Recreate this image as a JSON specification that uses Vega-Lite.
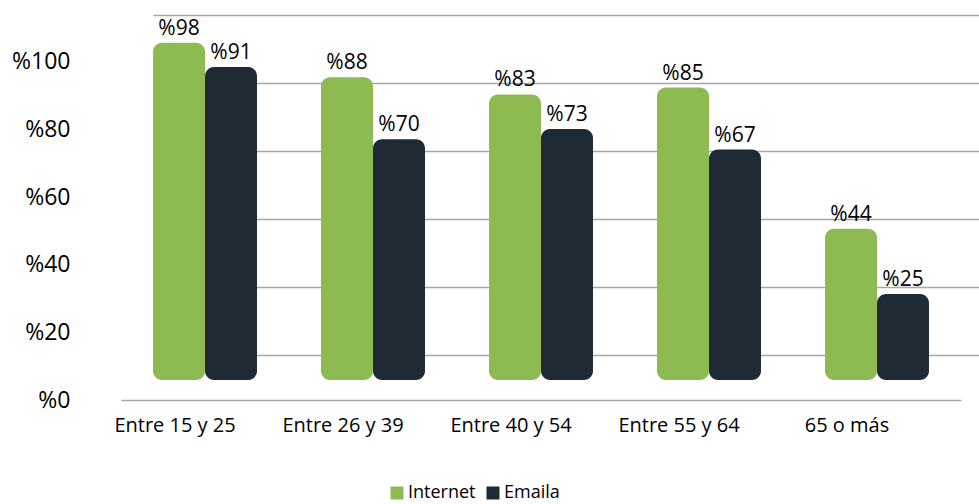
{
  "$schema": "https://vega.github.io/schema/vega-lite/v6.json",
  "width": 826,
  "height": 385,
  "autosize": {"type": "none"},
  "padding": {"left": 153, "top": 15, "right": 0, "bottom": 104},
  "background": "white",
  "config": {"view": {"stroke": null}, "font": "Open Sans"},
  "data": {
    "values": [
      {"group": "Entre 15 y 25", "series": "Internet", "value": 98},
      {"group": "Entre 15 y 25", "series": "Emaila", "value": 91},
      {"group": "Entre 26 y 39", "series": "Internet", "value": 88},
      {"group": "Entre 26 y 39", "series": "Emaila", "value": 70},
      {"group": "Entre 40 y 54", "series": "Internet", "value": 83},
      {"group": "Entre 40 y 54", "series": "Emaila", "value": 73},
      {"group": "Entre 55 y 64", "series": "Internet", "value": 85},
      {"group": "Entre 55 y 64", "series": "Emaila", "value": 67},
      {"group": "65 o más", "series": "Internet", "value": 44},
      {"group": "65 o más", "series": "Emaila", "value": 25}
    ]
  },
  "layer": [
    {
      "mark": {"type": "rule", "opacity": 0},
      "encoding": {
        "y": {
          "field": "value", "type": "quantitative",
          "scale": {"domain": [-13.2, 100], "nice": false, "zero": false},
          "axis": {"orient": "right", "grid": true, "gridColor": "#a8a8a8", "gridWidth": 1.5, "labels": false, "ticks": false, "domain": false, "title": null, "values": [0, 20, 40, 60, 80, 100]}
        }
      }
    },
    {
      "mark": {"type": "rule", "opacity": 0},
      "encoding": {
        "y": {
          "field": "value", "type": "quantitative",
          "scale": {"domain": [0, 113.9], "nice": false},
          "axis": {"orient": "left", "grid": false, "ticks": false, "domain": false, "title": null, "values": [0, 20, 40, 60, 80, 100], "labelExpr": "'%' + datum.value", "labelPadding": 83, "labelFontSize": 23, "labelColor": "#000000", "labelFont": "Open Sans"}
        }
      }
    },
    {
      "encoding": {
        "x": {
          "field": "group", "type": "nominal",
          "sort": ["Entre 15 y 25", "Entre 26 y 39", "Entre 40 y 54", "Entre 55 y 64", "65 o más"],
          "scale": {"range": [-32, 808], "paddingInner": 0.381, "paddingOuter": 0.1905},
          "axis": {"title": null, "labelOffset": -30, "labelAngle": 0, "labelFontSize": 20, "labelFont": "Open Sans", "labelColor": "#000000", "ticks": false, "labelPadding": 15, "domainColor": "#a8a8a8", "domainWidth": 1.5}
        },
        "xOffset": {"field": "series", "type": "nominal", "sort": ["Internet", "Emaila"], "scale": {"paddingInner": 0, "paddingOuter": 0}},
        "y": {"field": "value", "type": "quantitative", "scale": {"domain": [-5.8, 106.1], "nice": false, "zero": false}, "axis": null}
      },
      "layer": [
        {
          "mark": {"type": "bar", "cornerRadius": 9},
          "encoding": {
            "y2": {"datum": 0},
            "color": {
              "field": "series", "type": "nominal",
              "scale": {"domain": ["Internet", "Emaila"], "range": ["#8DBB51", "#1E2A34"]},
              "legend": {"orient": "none", "legendX": 235, "legendY": 469, "direction": "horizontal", "title": null, "labelFontSize": 18, "labelFont": "Open Sans", "labelColor": "#000000", "symbolSize": 169, "symbolType": "square", "columnPadding": 8, "labelOffset": 2}
            }
          }
        },
        {
          "mark": {"type": "text", "baseline": "alphabetic", "dy": -8, "fontSize": 21, "font": "Open Sans", "color": "#000000", "text": {"expr": "'%' + datum.value"}}
        }
      ]
    }
  ],
  "resolve": {"scale": {"y": "independent"}, "axis": {"y": "independent"}}
}
